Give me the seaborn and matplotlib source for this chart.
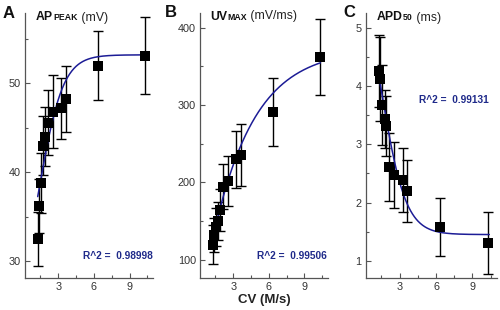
import numpy as np
import pandas as pd
import matplotlib
matplotlib.use("Agg")
import matplotlib.pyplot as plt
from matplotlib.ticker import MultipleLocator
import seaborn as sns

# ---- data ----
cv = [1.27, 1.42, 1.58, 1.75, 1.88, 2.12, 2.55, 3.25, 3.62, 6.33, 10.3]
ap_peak = [32.5, 36.2, 38.8, 43.0, 44.0, 45.6, 46.8, 47.2, 48.2, 52.0, 53.1]
ap_peak_err = [3.0, 3.0, 3.4, 3.3, 3.3, 3.6, 4.1, 3.4, 3.7, 3.9, 4.3]
uv_max = [119.5, 132.5, 142.3, 150.1, 164.0, 194.3, 202.0, 229.9, 235.5, 291.5, 362.0]
uv_max_err = [25, 22, 25, 25, 27, 29, 32, 37, 40, 44, 49]
apd50 = [4.26, 4.11, 3.67, 3.43, 3.31, 2.61, 2.47, 2.38, 2.20, 1.58, 1.31]
apd50_err = [0.62, 0.72, 0.68, 0.50, 0.52, 0.58, 0.56, 0.55, 0.53, 0.50, 0.53]
r2_labels = ["R^2 =  0.98998", "R^2 =  0.99506", "R^2 =  0.99131"]
panel_letters = ["A", "B", "C"]

# fit parameters (Boltzmann for A and C, exponential rise for B)
fitA = dict(A1=23.3, A2=53.2, x0=1.4, dx=1.0)
fitB = dict(a=373.0, b=355.0, t=3.5)
fitC = dict(A1=6.36, A2=1.45, x0=1.5, dx=1.0)
fit_start = [1.27, 1.32, 1.25]
fit_end = [10.3, 10.36, 10.39]

def boltz(x, A1, A2, x0, dx):
    return A2 + (A1 - A2) / (1 + np.exp((x - x0) / dx))

def exprise(x, a, b, t):
    return a - b * np.exp(-x / t)

df = pd.DataFrame({"cv": cv, "ap": ap_peak, "ap_e": ap_peak_err,
                   "uv": uv_max, "uv_e": uv_max_err,
                   "apd": apd50, "apd_e": apd50_err})

sns.set_theme(style="ticks")
plt.rcParams["font.family"] = ["Liberation Sans", "DejaVu Sans"]

W, H = 500, 310
fig = plt.figure(figsize=(5.0, 3.1), dpi=100)

def px_axes(l, r, t, b):
    return fig.add_axes([l / W, 1 - b / H, (r - l) / W, (b - t) / H])

axA = px_axes(25, 153.3, 13, 278.3)
axB = px_axes(200, 328, 13, 278.3)
axC = px_axes(365.7, 496.7, 13, 278.3)
axes = [axA, axB, axC]

navy = "#1c1c96"
txtnavy = "#1f2a8a"
cols = [("ap", "ap_e"), ("uv", "uv_e"), ("apd", "apd_e")]
ylims = [(28.1, 57.9), (76, 419), (0.70, 5.25)]
ymaj = [10, 100, 1]
ymin = [5, 50, 0.5]

for i, ax in enumerate(axes):
    ycol, ecol = cols[i]
    xf = np.linspace(fit_start[i], fit_end[i], 300)
    if i == 0:
        yf = boltz(xf, **fitA)
    elif i == 1:
        yf = exprise(xf, **fitB)
    else:
        yf = boltz(xf, **fitC)
    ax.errorbar(df["cv"], df[ycol], yerr=df[ecol], fmt="none", ecolor="black",
                elinewidth=1.0, capsize=3.4, capthick=1.0, zorder=2)
    sns.lineplot(x=xf, y=yf, ax=ax, color=navy, lw=1.1, zorder=3)
    sns.scatterplot(data=df, x="cv", y=ycol, ax=ax, marker="s", s=62,
                    color="black", edgecolor="black", linewidth=0, zorder=4)
    ax.set_xlim(0.2, 11.0)
    ax.set_ylim(*ylims[i])
    ax.xaxis.set_major_locator(MultipleLocator(3))
    ax.xaxis.set_minor_locator(MultipleLocator(1.5))
    ax.yaxis.set_major_locator(MultipleLocator(ymaj[i]))
    ax.yaxis.set_minor_locator(MultipleLocator(ymin[i]))
    ax.tick_params(which="both", direction="in", colors="#555555",
                   labelcolor="#333333", labelsize=7.8, width=0.8, pad=3)
    ax.tick_params(which="major", length=3.5)
    ax.tick_params(which="minor", length=2.5)
    for s in ["top", "right"]:
        ax.spines[s].set_visible(False)
    for s in ["left", "bottom"]:
        ax.spines[s].set_color("#555555")
        ax.spines[s].set_linewidth(0.9)
    ax.set_ylabel("")
    ax.set_xlabel("")
    ax.grid(False)

# x label on middle panel
axB.set_xlabel("CV (M/s)", fontsize=9.5, fontweight="bold", color="#222222", labelpad=1)

# R^2 labels
r2_pos = [(0.995, 0.084, "right"), (0.99, 0.084, "right"), (0.94, 0.672, "right")]
for ax, lab, (x, y, ha) in zip(axes, r2_labels, r2_pos):
    ax.text(x, y, lab, transform=ax.transAxes, ha=ha, va="center",
            fontsize=7.3, fontweight="bold", color=txtnavy)

# panel letters
letter_pos = [(2.7, 18.3), (165, 17.0), (343.3, 17.3)]
for L, (x, y) in zip(panel_letters, letter_pos):
    fig.text(x / W, 1 - y / H, L, fontsize=12, fontweight="bold",
             color="#111111", ha="left", va="baseline")

# titles with small-caps / subscript parts
titles = [("AP", "PEAK", " (mV)"), ("UV", "MAX", " (mV/ms)"), ("APD", "50", " (ms)")]
title_pos = [(36, 20.5), (210, 19.5), (376.7, 20.5)]
for (big, small, unit), (x, y) in zip(titles, title_pos):
    t1 = fig.text(x / W, 1 - y / H, big, fontsize=8.8, fontweight="bold",
                  color="#111111", ha="left", va="baseline")
    t2 = fig.text(0, 0, small, fontsize=6.3, fontweight="bold", color="#111111",
                  ha="left", va="baseline")
    t3 = fig.text(0, 0, unit, fontsize=8.8, color="#222222", ha="left", va="baseline")
    fig.canvas.draw()
    r = fig.canvas.get_renderer()
    bb1 = t1.get_window_extent(r)
    t2.set_position(((bb1.x1 + 0.3) / W, 1 - y / H))
    bb2 = t2.get_window_extent(r)
    t3.set_position((bb2.x1 / W, 1 - y / H))

fig.savefig("out.png", dpi=100)
